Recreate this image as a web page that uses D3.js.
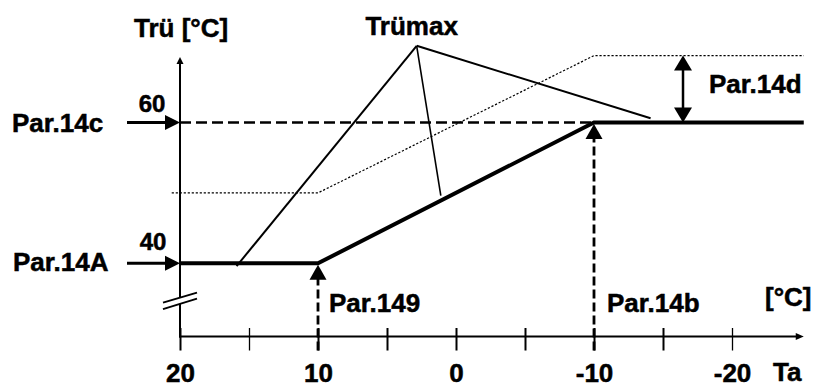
<!DOCTYPE html>
<html>
<head>
<meta charset="utf-8">
<script src="https://cdn.jsdelivr.net/npm/d3@7"></script>
<style>
  html, body { margin: 0; padding: 0; background: #fff; }
  svg { display: block; }
  text { font-family: "Liberation Sans", Arial, sans-serif; font-weight: bold; fill: #000; stroke: #000; stroke-width: 0.5px; }
</style>
</head>
<body>
<svg id="chart" width="815" height="387"></svg>
<script>
// ---- data ----
const taTicks = [20, 15, 10, 5, 0, -5, -10, -15, -20];
const taLabels = [20, 10, 0, -10, -20];
const curveTa = [20, 10, -10, -25.2];      // Trü curve (Par.14A -> Par.14c)
const curveTr = [40, 40, 60, 60];
const maxTa = [20.6, 10, -10, -25.2];      // Trümax = curve + Par.14d
const maxTr = [50, 50, 69.5, 69.5];
const apex = [2.85, 70.9];                 // "Trümax" label pointer origin
const pointerTa = [15.9, 1.1, -14.1];
const pointerTr = [39.6, 49.6, 60.6];
const par14c = 60, par14A = 40, par149 = 10, par14b = -10, par14dTa = -16.45;
const yAxisTop = 69.3, yAxisBase = 29.6, yBreak = 34.7, xAxisEnd = -25.2;

// ---- scales ----
const x = d3.scaleLinear().domain([20, -20]).range([180, 732]);
const y = d3.scaleLinear().domain([40, 60]).range([263.3, 122.5]);
const svg = d3.select("#chart");
const axisY = y(yAxisBase);

const tri = (tx, ty, dir, len, hw) => {
  if (dir === "right") return `M${tx},${ty}L${tx - len},${ty - hw}L${tx - len},${ty + hw}Z`;
  if (dir === "up") return `M${tx},${ty}L${tx - hw},${ty + len}L${tx + hw},${ty + len}Z`;
  return `M${tx},${ty}L${tx - hw},${ty - len}L${tx + hw},${ty - len}Z`;
};

// ---- axes ----
svg.append("line").attr("x1", x(20)).attr("x2", x(20))
  .attr("y1", y(yAxisTop) + 3).attr("y2", axisY + 1)
  .attr("stroke", "#000").attr("stroke-width", 2);
svg.append("path").attr("d", tri(x(20), y(yAxisTop), "up", 7, 3.5)).attr("fill", "#000");
svg.append("line").attr("x1", x(20) - 1).attr("x2", x(xAxisEnd) - 4)
  .attr("y1", axisY).attr("y2", axisY)
  .attr("stroke", "#000").attr("stroke-width", 2);
svg.append("path").attr("d", `M${x(xAxisEnd)},${axisY}L${x(xAxisEnd) - 8},${axisY - 3.5}L${x(xAxisEnd) - 8},${axisY + 3.5}Z`).attr("fill", "#000");

// axis break
const by = y(yBreak);
svg.append("path")
  .attr("d", `M${x(20) - 17},${by + 2}L${x(20) + 17},${by - 8}L${x(20) + 17},${by - 2}L${x(20) - 17},${by + 8.5}Z`)
  .attr("fill", "#fff");
[[by + 2, by - 8], [by + 8.5, by - 2]].forEach(([a, b]) => {
  svg.append("line").attr("x1", x(20) - 17).attr("y1", a).attr("x2", x(20) + 17).attr("y2", b)
    .attr("stroke", "#000").attr("stroke-width", 2);
});

// ticks + labels via d3 axis
const xAxis = d3.axisBottom(x).tickValues(taTicks).tickSize(14).tickPadding(13.5)
  .tickFormat(d => taLabels.includes(d) ? d3.format("d")(d).replace("−", "-") : "");
const gx = svg.append("g").attr("transform", `translate(0,${axisY})`).call(xAxis);
gx.select(".domain").remove();
gx.selectAll(".tick line").attr("y1", -8.5).attr("stroke", "#000")
  .attr("stroke-width", d => (d === -20 || d === 15) ? 1.3 : 2);
gx.selectAll(".tick text").attr("font-size", 26).attr("font-family", null).attr("fill", "#000");
gx.attr("font-family", null).attr("font-size", null);

// ---- dotted Trümax line ----
const line = d3.line().x(d => x(d[0])).y(d => y(d[1]));
svg.append("path").datum(d3.zip(maxTa, maxTr)).attr("d", line)
  .attr("fill", "none").attr("stroke", "#000").attr("stroke-width", 1.2)
  .attr("stroke-dasharray", "2.2,1.8");

// ---- dashed reference lines ----
svg.append("line").attr("x1", x(20)).attr("x2", x(par14b))
  .attr("y1", y(par14c)).attr("y2", y(par14c))
  .attr("stroke", "#000").attr("stroke-width", 2.6).attr("stroke-dasharray", "11,5");
[[par149, par14A], [par14b, par14c]].forEach(([t, v]) => {
  svg.append("line").attr("x1", x(t)).attr("x2", x(t))
    .attr("y1", axisY + 14).attr("y2", y(v) + 15)
    .attr("stroke", "#000").attr("stroke-width", 2.8).attr("stroke-dasharray", "9,4");
  svg.append("path").attr("d", tri(x(t), y(v) + 1.5, "up", 15, 8.5)).attr("fill", "#000");
});

// ---- main curve ----
svg.append("path").datum(d3.zip(curveTa, curveTr)).attr("d", line)
  .attr("fill", "none").attr("stroke", "#000").attr("stroke-width", 4)
  .attr("stroke-linejoin", "miter");

// ---- Trümax pointers ----
pointerTa.forEach((t, i) => {
  svg.append("line").attr("x1", x(apex[0])).attr("y1", y(apex[1]))
    .attr("x2", x(t)).attr("y2", y(pointerTr[i]))
    .attr("stroke", "#000").attr("stroke-width", i === 1 ? 1.6 : 2);
});

// ---- left arrows (Par.14c, Par.14A) ----
[par14c, par14A].forEach(v => {
  svg.append("line").attr("x1", 127).attr("x2", x(20) - 12)
    .attr("y1", y(v)).attr("y2", y(v)).attr("stroke", "#000").attr("stroke-width", 3);
  svg.append("path").attr("d", tri(x(20), y(v), "right", 15, 7.5)).attr("fill", "#000");
});

// ---- Par.14d double arrow ----
const dx = x(par14dTa);
svg.append("line").attr("x1", dx).attr("x2", dx)
  .attr("y1", y(maxTr[2]) + 12).attr("y2", y(par14c) - 12)
  .attr("stroke", "#000").attr("stroke-width", 2.5);
svg.append("path").attr("d", tri(dx, y(maxTr[2]), "up", 15, 9)).attr("fill", "#000");
svg.append("path").attr("d", tri(dx, y(par14c), "down", 15, 9)).attr("fill", "#000");

// ---- labels ----
const label = (txt, xx, yy, size = 26, anchor = "start") =>
  svg.append("text").attr("x", xx).attr("y", yy).attr("font-size", size)
    .attr("text-anchor", anchor).text(txt);

label("Trü [°C]", 134, 37);
label("Trümax", x(apex[0]) - 5, 35, 26, "middle");
label("Par.14c", 12, y(par14c) + 9);
label("Par.14A", 13, y(par14A) + 8);
label(String(par14c), 152, y(par14c) - 11, 24, "middle");
label(String(par14A), 153, y(par14A) - 13, 24, "middle");
label("Par.149", x(par149) + 11, 311.5);
label("Par.14b", x(par14b) + 13, 311.5);
label("[°C]", 765, 306);
label("Par.14d", 709, 93);
label("Ta", 773, 381);
</script>
</body>
</html>
